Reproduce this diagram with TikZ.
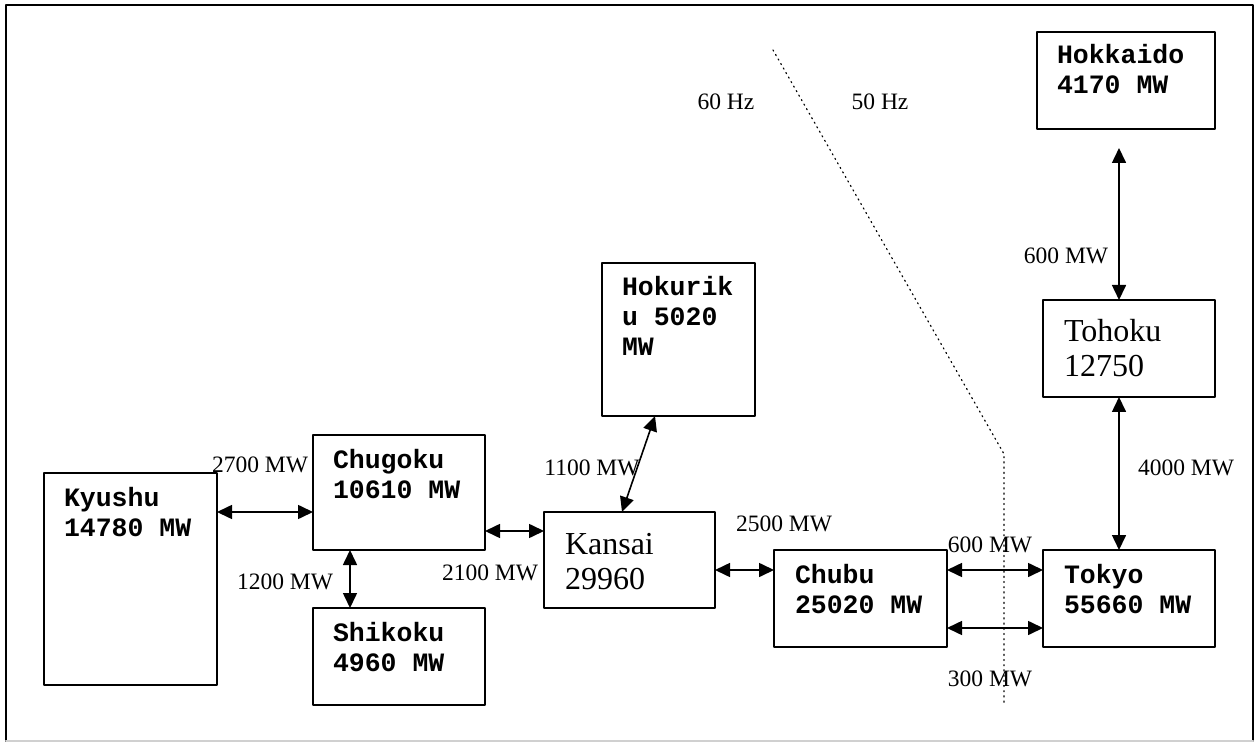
\documentclass[tikz,border=0pt]{standalone}
\usepackage{fontspec}
\setmainfont{Liberation Serif}
\setmonofont{Liberation Mono}
\usetikzlibrary{arrows.meta, positioning}
\definecolor{framegray}{HTML}{D0D0D0}
\definecolor{inkblack}{HTML}{000000}

\tikzset{
  areabox/.style={draw=inkblack, line width=1pt, inner sep=0pt, outer sep=0pt, anchor=north west},
  flowlabel/.style={inner sep=0pt, font=\fontsize{11.75pt}{13pt}\selectfont},
  tie/.style={line width=0.8pt, {Triangle[length=7.5pt, width=7pt]}-{Triangle[length=7.5pt, width=7pt]}},
  freqline/.style={dotted, line width=0.6pt}
}

\begin{document}
\begin{tikzpicture}[x=0.5pt, y=-0.5pt, line cap=round, line join=round]
      \useasboundingbox (0,0) rectangle (1256,742);

      % Rahmen
      \draw[line width=1pt] (6,741) -- (6,5) -- (1253,5) -- (1253,741);
      \draw[framegray, line width=1pt] (6,741) -- (1253,741);

      % Kyushu
      \node[areabox] (Kyushu) at (44,473) {
        \begin{minipage}[t][106pt][t]{86.5pt}
          \raggedright\leftskip=10pt\ttfamily\bfseries\fontsize{13.25pt}{15pt}\selectfont
          \rule{0pt}{16.5pt}Kyushu\\14780 MW
        \end{minipage}
      };

      % Chugoku
      \node[areabox] (Chugoku) at (313,435) {
        \begin{minipage}[t][57.5pt][t]{86pt}
          \raggedright\leftskip=10pt\ttfamily\bfseries\fontsize{13.25pt}{15pt}\selectfont
          \rule{0pt}{16.5pt}Chugoku\\10610 MW
        \end{minipage}
      };

      % Shikoku
      \node[areabox] (Shikoku) at (313,608) {
        \begin{minipage}[t][48.5pt][t]{86pt}
          \raggedright\leftskip=10pt\ttfamily\bfseries\fontsize{13.25pt}{15pt}\selectfont
          \rule{0pt}{16.5pt}Shikoku\\4960 MW
        \end{minipage}
      };

      % Kansai
      \node[areabox] (Kansai) at (544,512) {
        \begin{minipage}[t][48pt][t]{85.5pt}
          \raggedright\leftskip=10.5pt\fontsize{16pt}{17.5pt}\selectfont
          \rule{0pt}{21pt}Kansai\\29960
        \end{minipage}
      };

      % Hokuriku
      \node[areabox] (Hokuriku) at (602,263) {
        \begin{minipage}[t][76.5pt][t]{76.5pt}
          \raggedright\leftskip=10pt\ttfamily\bfseries\fontsize{13.25pt}{15pt}\selectfont
          \rule{0pt}{16.5pt}Hokurik\\u 5020\\MW
        \end{minipage}
      };

      % Chubu
      \node[areabox] (Chubu) at (774,550) {
        \begin{minipage}[t][48.5pt][t]{86.5pt}
          \raggedright\leftskip=10.5pt\ttfamily\bfseries\fontsize{13.25pt}{15pt}\selectfont
          \rule{0pt}{16.5pt}Chubu\\25020 MW
        \end{minipage}
      };

      % Tokyo
      \node[areabox] (Tokyo) at (1043,550) {
        \begin{minipage}[t][48.5pt][t]{86pt}
          \raggedright\leftskip=10.5pt\ttfamily\bfseries\fontsize{13.25pt}{15pt}\selectfont
          \rule{0pt}{16.5pt}Tokyo\\55660 MW
        \end{minipage}
      };

      % Tohoku
      \node[areabox] (Tohoku) at (1043,300) {
        \begin{minipage}[t][48.5pt][t]{86pt}
          \raggedright\leftskip=10.5pt\fontsize{16pt}{17.5pt}\selectfont
          \rule{0pt}{21pt}Tohoku\\12750
        \end{minipage}
      };

      % Hokkaido
      \node[areabox] (Hokkaido) at (1037,32) {
        \begin{minipage}[t][48.5pt][t]{89pt}
          \raggedright\leftskip=10pt\ttfamily\bfseries\fontsize{13.25pt}{15pt}\selectfont
          \rule{0pt}{16pt}Hokkaido\\4170 MW
        \end{minipage}
      };

      % Frequenzgrenze 60 Hz / 50 Hz
      \draw[freqline] (773,50) -- (1004,454) -- (1004,704);
      \node[flowlabel] (hzwest) at (726,102) {60 Hz};
      \node[flowlabel] (hzeast) at (880,102) {50 Hz};

      % Verbindungen
      \draw[tie] ([yshift=-19.5pt]Kyushu.north east) -- ([yshift=-38.5pt]Chugoku.north west);
      \draw[tie] ([yshift=9.5pt]Chugoku.south east) -- ([yshift=-9.5pt]Kansai.north west);
      \draw[tie] ([xshift=18.5pt]Chugoku.south west) -- ([xshift=18.5pt]Shikoku.north west);
      \draw[tie] ([xshift=26.5pt]Hokuriku.south west) -- ([xshift=39pt]Kansai.north west);
      \draw[tie] ([yshift=-29pt]Kansai.north east) -- ([yshift=-10pt]Chubu.north west);
      \draw[tie] ([yshift=-10pt]Chubu.north east) -- ([yshift=-10pt]Tokyo.north west);
      \draw[tie] ([yshift=9.5pt]Chubu.south east) -- ([yshift=9.5pt]Tokyo.south west);
      \draw[tie] ([xshift=38pt]Tohoku.south west) -- ([xshift=38pt]Tokyo.north west);
      \draw[tie] ([xshift=41pt, yshift=-9.5pt]Hokkaido.south west) -- ([xshift=38pt]Tohoku.north west);

      % Leistungen
      \node[flowlabel] (capKyuChu) at (260,465) {2700 MW};
      \node[flowlabel] (capChuKan) at (490,573) {2100 MW};
      \node[flowlabel] (capChuShi) at (285,582) {1200 MW};
      \node[flowlabel] (capHokKan) at (592,468) {1100 MW};
      \node[flowlabel] (capKanChb) at (784,524) {2500 MW};
      \node[flowlabel] (capChbTkA) at (990,545) {600 MW};
      \node[flowlabel] (capChbTkB) at (990,679) {300 MW};
      \node[flowlabel] (capThkTky) at (1186,468) {4000 MW};
      \node[flowlabel] (capHkdThk) at (1066,256) {600 MW};
    \end{tikzpicture}
\end{document}
